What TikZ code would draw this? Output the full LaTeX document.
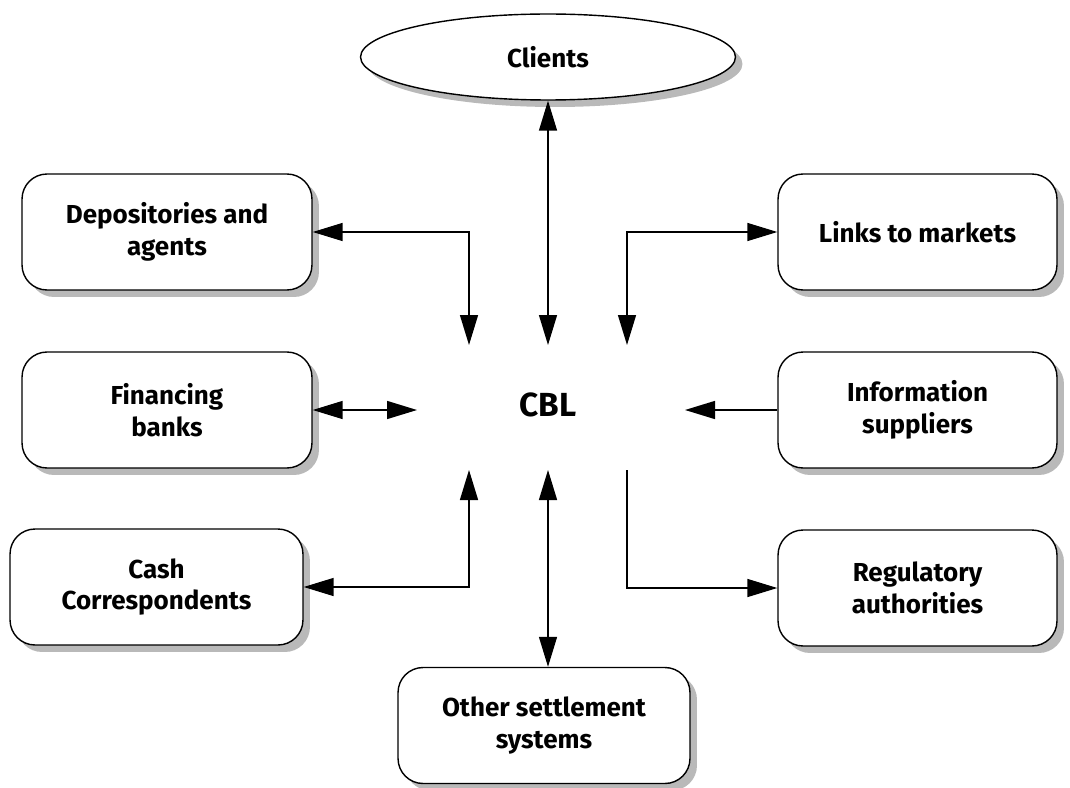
\documentclass[tikz,border=0pt]{standalone}
\usepackage{fontspec}
\setmainfont{Fira Sans}
\usetikzlibrary{positioning,arrows.meta,shapes.geometric,shadows}

\begin{document}
\begin{tikzpicture}[x=0.02cm, y=-0.02cm, line width=0.8pt, >={Triangle[length=0.6cm, width=0.36cm]}]
\tikzstyle{shd}=[drop shadow={shadow xshift=0.14cm, shadow yshift=-0.14cm, fill=gray!55, opacity=1}]
\tikzstyle{box}=[rectangle, rounded corners=0.5cm, draw, fill=white, shd, minimum height=2.32cm, align=center, font=\bfseries\fontsize{14.8}{18}\selectfont]
\tikzstyle{ell}=[ellipse, draw, fill=white, shd, inner sep=0pt, minimum width=7.5cm, minimum height=1.72cm, font=\bfseries\fontsize{14.8}{18}\selectfont]
\useasboundingbox (0,0) rectangle (1070,787);
\node[ell] (clients) at (548,57) {Clients};
\node[box, minimum width=5.8cm] (dep) at (167,232) {Depositories and\\agents};
\node[box, minimum width=5.8cm] (fin) at (167,410) {Financing\\banks};
\node[box, minimum width=5.86cm] (cash) at (156.5,587) {Cash\\Correspondents};
\node[box, minimum width=5.58cm] (links) at (917.5,232) {Links to markets};
\node[box, minimum width=5.58cm] (info) at (917.5,410) {Information\\suppliers};
\node[box, minimum width=5.58cm] (reg) at (917.5,588) {Regulatory\\authorities};
\node[box, minimum width=5.84cm] (oth) at (544,725.5) {Other settlement\\systems};
\node[font=\bfseries\fontsize{19}{22}\selectfont] (cbl) at (548,405) {CBL};
% ends of the arrows round CBL
\coordinate (cdep) at (469,345);
\coordinate (ccli) at (548,345);
\coordinate (clnk) at (627,345);
\coordinate (cfin) at (417,410);
\coordinate (cinf) at (685,410);
\coordinate (ccsh) at (469,470);
\coordinate (coth) at (548,470);
\coordinate (creg) at (627,470);
\foreach \i/\j/\k in {clients.south/ccli/<->, fin.east/cfin/<->, info.west/cinf/->}{\draw[\k] (\i) -- (\j);}
\draw[<->] (coth) -- (coth |- oth.north);
\draw[<->] (dep.east) -| (cdep);
\draw[<->] (clnk) |- (links.west);
\draw[<->] (ccsh) |- (cash.east);
\draw[->] (creg) |- (reg.west);
\end{tikzpicture}
\end{document}
